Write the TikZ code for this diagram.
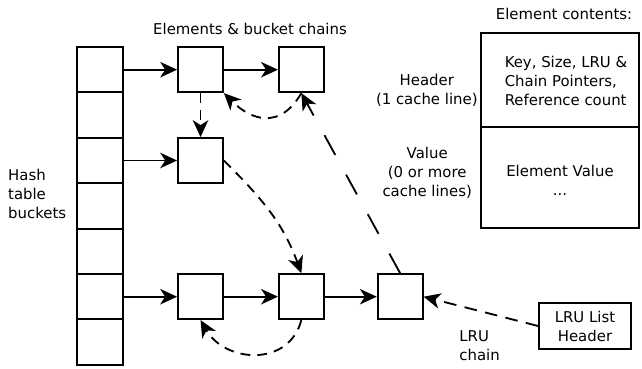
\documentclass[tikz,border=0pt]{standalone}
\usepackage{fontspec}
\setmainfont{DejaVu Sans}
\usetikzlibrary{positioning,arrows.meta}

\begin{document}
\begin{tikzpicture}[
        every node/.style={font=\fontsize{10.6}{13.5}\selectfont},
        bucket/.style={draw, line width=1.3pt, minimum width=1.15cm, minimum height=1.135cm, inner sep=0pt},
        elem/.style={draw, line width=1.3pt, minimum size=1.125cm, inner sep=0pt},
        cell/.style={draw, line width=1.3pt, minimum width=3.95cm, outer sep=0pt},
        link/.style={-{Stealth[length=12pt,width=11pt,inset=3.5pt]}, line width=1.3pt},
        lru/.style={link, dash pattern=on 7pt off 5pt}
    ]
        \useasboundingbox (0, 0) rectangle (16.05, 9.2);

        \node (title) at (6.25, 8.475) {Elements \& bucket chains};
        \node (ctitle) at (14.1, 8.85) {Element contents:};
        \node[anchor=west, align=left] (hashlabel) at (0.08, 4.35) {Hash\\table\\buckets};
        \node[anchor=west, align=left] (lrulabel) at (11.36, 0.55) {LRU\\chain};

        \foreach \i in {1,...,7}
            \node[bucket] (b\i) at (2.5, 8.5925 - \i*1.135) {};

        \node[elem, right=1.33cm of b1] (e1) {};
        \node[elem, right=1.35cm of e1] (e2) {};
        \node[elem, right=1.33cm of b3] (e3) {};
        \node[elem, right=1.33cm of b6] (e4) {};
        \node[elem, right=1.35cm of e4] (e5) {};
        \node[elem, right=1.3cm of e5] (e6) {};

        \node[draw, line width=1.3pt, minimum width=2.3cm, minimum height=1.15cm, align=center] (lruhead) at (14.625, 1.05) {LRU List\\Header};

        \node[cell, minimum height=2.35cm] (hdrcell) at (14.0, 7.2) {};
        \node[cell, minimum height=2.525cm, anchor=north] (valcell) at (hdrcell.south) {};
        \node[align=left] (hdrtext) at (14.15, 7.175) {Key, Size, LRU \&\\Chain Pointers,\\Reference count};
        \node[align=center] (valtext) at (14.0, 4.7) {Element Value\\...};
        \node[align=center] (hdrlabel) at (10.67, 6.95) {Header\\(1 cache line)};
        \node[align=center] (vallabel) at (10.68, 4.875) {Value\\(0 or more\\cache lines)};

        \draw[link] (b1.east) -- (e1.west);
        \draw[link] (e1) -- (e2);
        \draw[link] (b3.east) -- (e3.west);
        \draw[link] (b6.east) -- (e4.west);
        \draw[link] (e4) -- (e5);
        \draw[link] (e5) -- (e6);

        \draw[link, dash pattern=on 9pt off 6pt] (lruhead.west) -- (e6.east);
        \draw[link, dash pattern=on 16pt off 16pt] (e6.north) -- (e2.south);
        \draw[lru] (e2.south) to[out=-120, in=-45, looseness=1.35] (e1.south east);
        \draw[lru] (e1.south) -- (e3.north);
        \draw[lru] (e3.east) to[out=-45, in=110] (e5.north);
        \draw[lru] (e5.south) to[out=-105, in=-60, looseness=1.25] (e4.south);

    \end{tikzpicture}
\end{document}
